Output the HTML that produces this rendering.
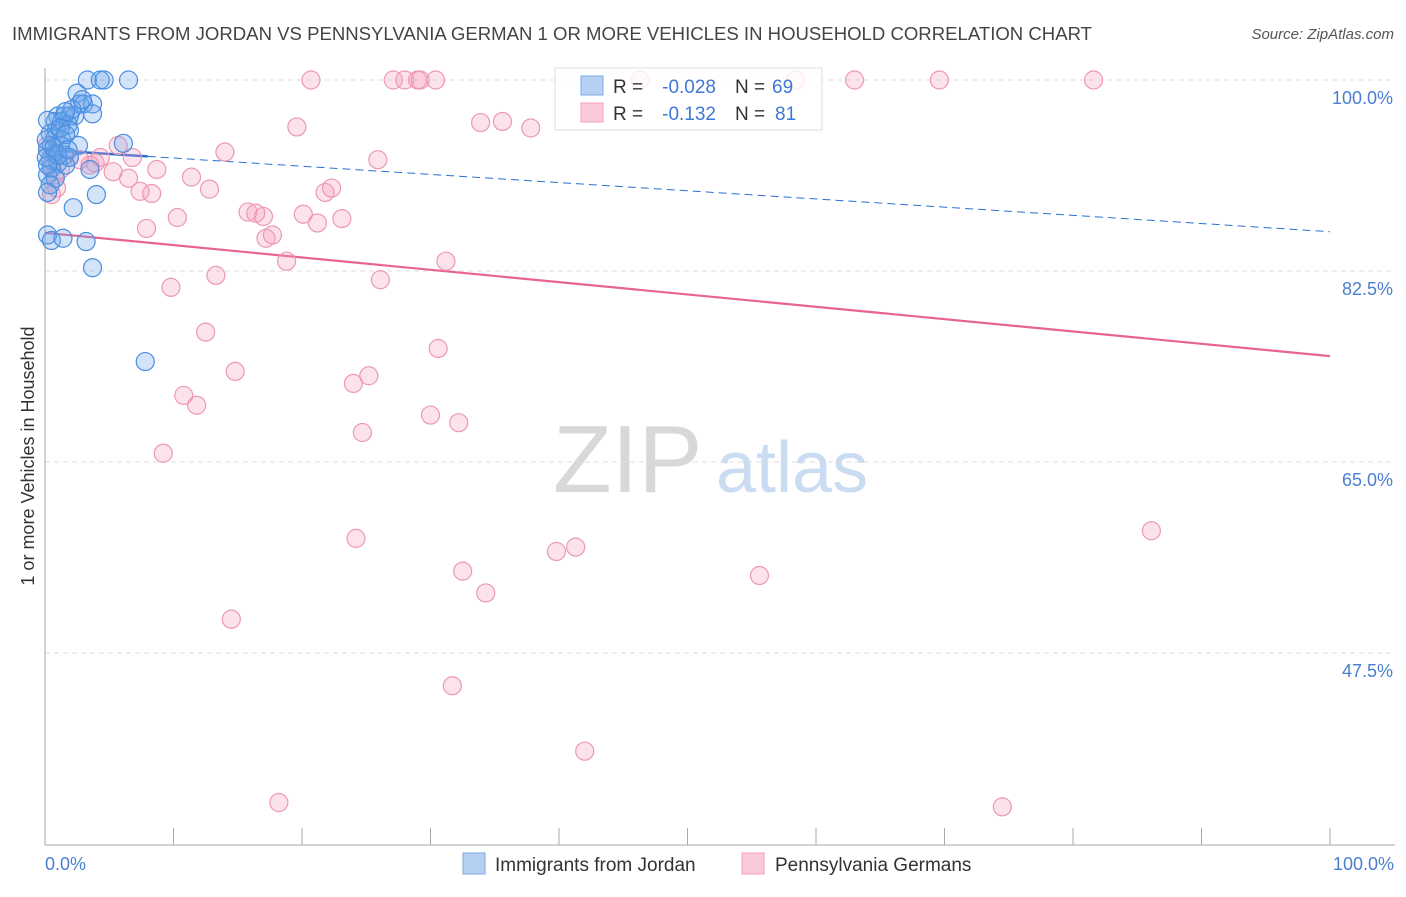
<!DOCTYPE html>
<html><head><meta charset="utf-8"><style>
body{margin:0;background:#fff;font-family:"Liberation Sans",sans-serif;}
svg text{font-family:"Liberation Sans",sans-serif;}
</style></head><body>
<svg id="chart" width="1406" height="892" xmlns="http://www.w3.org/2000/svg">
<text x="12" y="40" font-size="18" fill="#444" textLength="1080" lengthAdjust="spacingAndGlyphs">IMMIGRANTS FROM JORDAN VS PENNSYLVANIA GERMAN 1 OR MORE VEHICLES IN HOUSEHOLD CORRELATION CHART</text>
<text x="1394" y="39" font-size="15" fill="#555" text-anchor="end" font-style="italic">Source: ZipAtlas.com</text>
<g>
<text x="553" y="492" font-size="96" fill="#d8d8d8" font-family="Liberation Serif">ZIP</text>
<text x="716" y="492" font-size="72" fill="#c9dcf2">atlas</text>
</g>
<g id="grid"></g>
<line x1="45" y1="68" x2="45" y2="845" stroke="#aaa"/>
<line x1="45" y1="845" x2="1395" y2="845" stroke="#aaa"/>
<g id="xticks"></g>
<text transform="translate(34,456) rotate(-90)" font-size="18" fill="#333" text-anchor="middle">1 or more Vehicles in Household</text>
<text x="45" y="870" font-size="18" fill="#4a7fd0">0.0%</text>
<text x="1394" y="870" font-size="18" fill="#4a7fd0" text-anchor="end">100.0%</text>
<g id="trend"></g>
<g id="pts"></g>
<g>
<rect x="555" y="68" width="267" height="62" fill="#fff" fill-opacity="0.82" stroke="#ddd"/>
<rect x="581" y="76" width="22" height="19" fill="#b5d0f3" stroke="#7aa8e6"/>
<rect x="581" y="103" width="22" height="19" fill="#fbcad9" stroke="#f0a0ba"/>
<text x="613" y="93" font-size="19" fill="#333">R =</text>
<text x="716" y="93" font-size="19" fill="#3d78d6" text-anchor="end">-0.028</text>
<text x="735" y="93" font-size="19" fill="#333">N =</text>
<text x="772" y="93" font-size="19" fill="#3d78d6">69</text>
<text x="613" y="120" font-size="19" fill="#333">R =</text>
<text x="716" y="120" font-size="19" fill="#3d78d6" text-anchor="end">-0.132</text>
<text x="735" y="120" font-size="19" fill="#333">N =</text>
<text x="775" y="120" font-size="19" fill="#3d78d6">81</text>
</g>
<g>
<rect x="463" y="853" width="22" height="21" fill="#b5d0f3" stroke="#7aa8e6"/>
<text x="495" y="871" font-size="19" fill="#333">Immigrants from Jordan</text>
<rect x="742" y="853" width="22" height="21" fill="#fbcad9" stroke="#f0a0ba"/>
<text x="775" y="871" font-size="19" fill="#333">Pennsylvania Germans</text>
</g>
</svg>
<script>
const yTicks=[100,82.5,65,47.5];
const yTickLabels=["100.0%","82.5%","65.0%","47.5%"];
const xTickVals=[0,10,20,30,40,50,60,70,80,90,100];
const blueX=[3.3,4.3,4.6,6.5,2.5,2.7,3.0,3.7,3.7,1.0,1.5,1.9,2.3,0.8,1.3,1.8,0.9,1.9,0.4,0.8,1.3,0.5,1.2,2.6,0.2,0.8,1.5,1.9,0.4,1.0,1.6,0.5,3.5,0.2,0.8,0.4,0.2,4.0,2.2,0.2,0.5,1.4,3.2,3.7,7.8,6.1,0.2,2.1,2.9,1.6,0.1,0.1,1.2,1.6,0.7,1.0,0.2,1.8];
const blueY=[100,100,100,100,98.8,97.8,97.8,97.8,96.9,96.7,96.7,96.7,96.7,96.2,96.2,95.9,95.4,95.4,95.1,94.7,94.5,94.0,94.0,94.0,93.6,93.3,93.1,92.9,92.7,92.4,92.2,91.9,91.8,91.3,91.0,90.4,89.7,89.5,88.3,85.8,85.3,85.5,85.2,82.8,74.2,94.2,96.3,97.3,98.2,97.1,94.5,92.9,95.6,95.0,93.8,93.1,92.2,93.6];
const pinkX=[20.7,27.1,28.0,29.0,29.2,30.4,46.3,58.4,63.0,69.6,81.6,19.6,33.9,35.6,37.8,14.0,25.9,5.7,6.8,8.7,11.4,12.8,7.4,8.3,6.5,5.3,4.3,3.5,2.7,0.9,0.8,1.2,15.8,16.4,17.0,20.1,21.2,23.1,21.8,22.3,10.3,7.9,17.2,17.7,18.8,31.2,13.3,9.8,26.1,12.5,30.6,14.8,24.0,25.2,10.8,11.8,24.7,30.0,32.2,9.2,24.2,39.8,41.3,32.5,34.3,55.6,86.1,14.5,31.7,42.0,18.2,74.5,1.9,3.9,0.2,0.5,0.5];
const pinkY=[100,100,100,100,100,100,100,100,100,100,100,95.7,96.1,96.2,95.6,93.4,92.7,94.0,92.9,91.8,91.1,90.0,89.8,89.6,91.0,91.6,92.9,92.2,92.7,90.1,91.3,91.8,87.9,87.8,87.5,87.7,86.9,87.3,89.7,90.1,87.4,86.4,85.5,85.8,83.4,83.4,82.1,81.0,81.7,76.9,75.4,73.3,72.2,72.9,71.1,70.2,67.7,69.3,68.6,65.8,58.0,56.8,57.2,55.0,53.0,54.6,58.7,50.6,44.5,38.5,33.8,33.4,92.9,92.4,94.0,92.2,89.5];
const blueTrend=[93.6,86.1];
const pinkTrend=[86.0,74.7];
const blueSolidEnd=8;

const NS="http://www.w3.org/2000/svg";
const X=v=>45+v*12.85;
const Y=v=>80+(100-v)*10.914;
function mk(t,a,p){const e=document.createElementNS(NS,t);for(const k in a)e.setAttribute(k,a[k]);p.appendChild(e);return e;}
const grid=document.getElementById('grid');
yTicks.forEach((v,i)=>{
  const l=mk('line',{x1:45,x2:1395,y1:Y(v),y2:Y(v),stroke:'#ddd','stroke-dasharray':'5,4'},grid);
  
  
  const t=mk('text',{x:1393,y:Y(v)+24,'font-size':18,fill:'#4a7fd0','text-anchor':'end'},grid);
  t.textContent=yTickLabels[i];
  
  
});
const xt=document.getElementById('xticks');
xTickVals.forEach(v=>{
  const l=mk('line',{x1:X(v),x2:X(v),y1:828,y2:845,stroke:'#aaa'},xt);
  
  
});
const tr=document.getElementById('trend');
const bl=mk('line',{x1:X(0),y1:Y(blueTrend[0]),x2:X(blueSolidEnd),y2:Y(blueTrend[0]+(blueTrend[1]-blueTrend[0])*blueSolidEnd/100),stroke:'#2a6fd6','stroke-width':2.5},tr);


const bd=mk('line',{x1:X(blueSolidEnd),y1:Y(blueTrend[0]+(blueTrend[1]-blueTrend[0])*blueSolidEnd/100),x2:X(100),y2:Y(blueTrend[1]),stroke:'#2a6fd6','stroke-width':1,'stroke-dasharray':'8,5'},tr);


const pl=mk('line',{x1:X(0),y1:Y(pinkTrend[0]),x2:X(100),y2:Y(pinkTrend[1]),stroke:'#e8648f','stroke-width':2.2},tr);


const pts=document.getElementById('pts');
pinkX.forEach((x,i)=>{
  const c=mk('circle',{cx:X(x),cy:Y(pinkY[i]),r:9,fill:'rgba(244,160,190,0.3)',stroke:'#ec98b3','stroke-width':1.2},pts);
  
  
});
blueX.forEach((x,i)=>{
  const c=mk('circle',{cx:X(x),cy:Y(blueY[i]),r:9,fill:'rgba(110,165,235,0.3)',stroke:'#4a8ee0','stroke-width':1.2},pts);
  
  
});
</script>
</body></html>
